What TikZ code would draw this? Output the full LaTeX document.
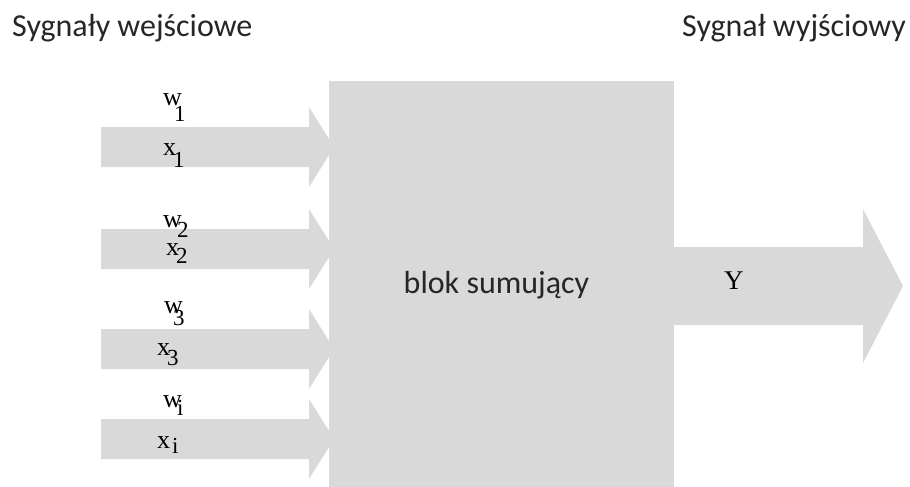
\documentclass[tikz,border=0pt]{standalone}
\usepackage{fontspec}
\newfontfamily\headfont{Carlito}
\newfontfamily\varfont{Liberation Serif}
\definecolor{blockgray}{HTML}{D9D9D9}
\definecolor{ink}{HTML}{262626}
% letter with a dropped index: #1 letter, #2 index, #3 kern (pt), #4 drop (pt)
\newcommand\idx[4]{#1\kern#3pt\lower#4pt\hbox{\fontsize{23}{26}\selectfont#2}}
\begin{document}
\begin{tikzpicture}[x=1pt,y=-1pt,
  shape fill/.style={fill=blockgray,draw=none},
  heading/.style={font=\fontsize{32}{36}\selectfont\headfont,text=ink,inner sep=0pt,anchor=base west},
  var/.style={font=\fontsize{26}{30}\selectfont\varfont,text=black,inner sep=0pt,anchor=base west},
  blocktext/.style={font=\fontsize{32}{36}\selectfont\headfont,text=ink,inner sep=0pt,anchor=base}]
\useasboundingbox (0,0) rectangle (910,487);

% input arrows
\foreach \c/\n in {147/a1,249/a2,349/a3,439/a4}{
  \coordinate (\n) at (101,\c);
  \fill[blockgray] (101,\c-20) -- (309,\c-20) -- (309,\c-40) -- (334,\c)
     -- (309,\c+40) -- (309,\c+20) -- (101,\c+20) -- cycle;
}

% summing block
\node[shape fill,minimum width=345pt,minimum height=406pt,inner sep=0pt,anchor=north west] (sum) at (329,81) {};
\node[blocktext] (sumlabel) at (496.5,293) {blok sumujący};

% output arrow
\fill[blockgray] ([xshift=-4pt]sum.east |- 0,247) -- (863,247) -- (863,209) -- (903,286)
   -- (863,363) -- (863,325) -- ([xshift=-4pt]sum.east |- 0,325) -- cycle;
\node[var,font=\fontsize{27}{30}\selectfont\varfont] (yout) at (724,289) {Y};

% headings
\node[heading] (hin) at (12,37) {Sygnały wejściowe};
\node[heading] (hout) at (682,37) {Sygnał wyjściowy};

% weights and inputs
\node[var] (w1) at (163,105) {\idx{w}{1}{-7.8}{16}};
\node[var] (x1) at (163,155) {\idx{x}{1}{-3}{12}};
\node[var] (w2) at (163,227) {\idx{w}{2}{-4.8}{10}};
\node[var] (x2) at (166,255) {\idx{x}{2}{-3}{8}};
\node[var] (w3) at (164,313) {\idx{w}{3}{-9.8}{12}};
\node[var] (x3) at (157,355) {\idx{x}{3}{-3}{10}};
\node[var] (wi) at (163,407) {\idx{w}{i}{-4.8}{8}};
\node[var] (xi) at (157,448) {\idx{x}{i}{2}{5}};
\end{tikzpicture}
\end{document}
